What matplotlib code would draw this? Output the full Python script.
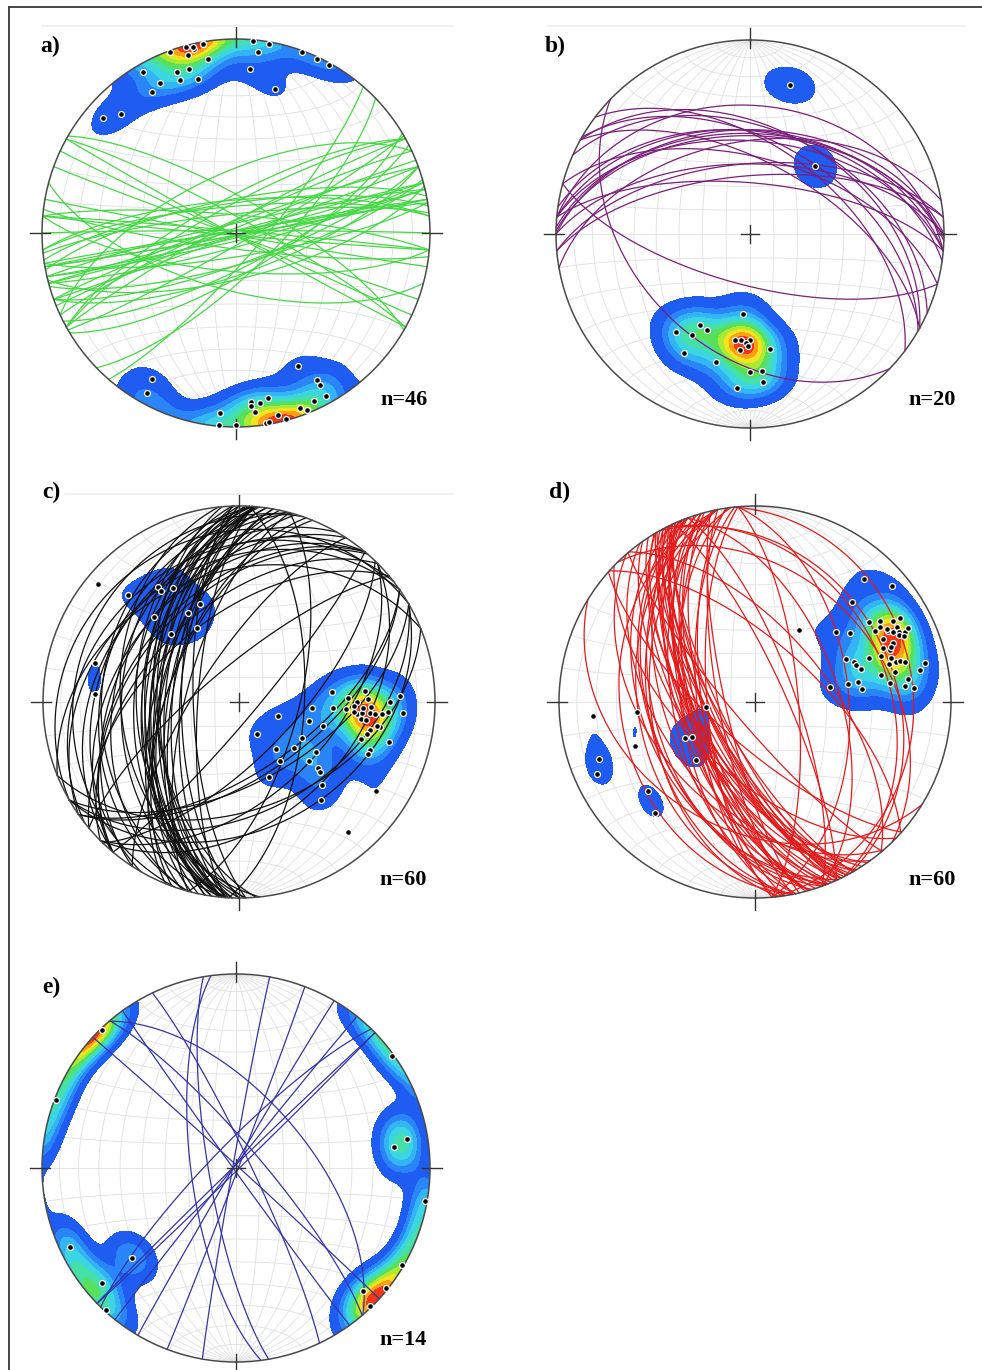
import numpy as np
import matplotlib
matplotlib.use('Agg')
import matplotlib.pyplot as plt
from matplotlib.patches import Circle
from matplotlib.lines import Line2D

W, H = 982, 1370

# ── Data: planes as dip direction / dip (deg) ───────────────────
a_dipdir = [160, 165, 170, 167, 165, 171, 164, 160, 160, 166, 150, 153, 149, 131, 136,
            185, 187, 185, 190, 195, 200, 205, 209, 335, 331, 331, 331, 335, 340, 347,
            345, 349, 352, 355, 355, 354, 5, 5, 0, 351, 350, 30, 29, 167, 338, 170]
a_dip = [89, 89, 89, 86.7, 84.3, 80.1, 76.9, 77.2, 73, 70.9, 85.5, 75.7, 73.4, 79.8, 73.9,
         73.8, 83.3, 89, 89, 65.8, 89, 89, 89, 64.7, 75.5, 78.6, 85.3, 84.8, 85.7, 86,
         89, 75.8, 77.4, 76.2, 78.8, 82, 82.4, 89, 89, 89, 89, 75.8, 83.8, 88, 88, 89]

b_dipdir = [195, 224, 37, 30, 29, 24, 29, 15, 5, 5, 0, 5, 350, 0, 355, 355, 5, 2, 1, 8]
b_dip = [68.6, 40.2, 52.9, 50.2, 44.5, 44.8, 59.7, 57.6, 34.1, 45.5, 45.3, 50.3, 50.5,
         60.4, 60.3, 65.5, 68.5, 47, 48, 46]

c_dipdir = [145, 145, 150, 158, 150, 135, 150, 135, 130, 134, 105, 93,
            264, 268, 265, 268.5, 270, 274, 273.5, 274.5, 276, 275, 275, 275, 275, 270,
            268, 274, 274, 280, 282, 284, 287, 280, 285, 290, 292, 286, 285, 300,
            310, 322, 325, 310, 303, 310, 311, 338, 315, 320, 289, 330, 303, 320,
            272, 273, 272, 278, 275, 278]
c_dip = [61.1, 58.7, 56.6, 44.6, 43.5, 51.1, 35.7, 40.7, 82.9, 67.5, 65.2, 62.7,
         39.5, 46.5, 54.5, 55.6, 50.2, 45.5, 39.8, 30.5, 50.8, 56.6, 52.7, 59, 62.2, 66,
         71, 72.9, 65.4, 62.1, 57.6, 56.8, 55, 60.5, 67.9, 60.3, 60.5, 36.9, 30.5, 30.2,
         30.2, 25, 30.2, 38.6, 38.8, 43.6, 45.4, 34, 50.4, 54.8, 17.3, 15.2, 72.5, 75.6,
         49, 53, 57, 53, 49, 55]

d_dipdir = [221.6, 229.6, 224, 235, 239.5, 229, 234, 242, 239.6, 240, 242, 244, 245, 244,
            249, 247, 247, 254, 254, 254, 249, 245, 248, 250, 253, 258, 258, 259, 257,
            261.5, 264, 265, 262, 259, 263, 259, 259, 239,
            211.5, 84, 85, 85, 70, 63, 61, 45.5, 70, 65.5, 50, 42,
            243, 245, 241, 248, 246, 250, 252, 237, 255, 244]
d_dip = [72.9, 80.7, 60.5, 60.4, 60.4, 45.3, 50.1, 66, 70.8, 74.6, 70.9, 70.5, 73.5, 75.6,
         63, 60.2, 65.5, 60.2, 63.8, 65.7, 52.4, 42.7, 45.1, 45.4, 47.3, 55.6, 62.1, 74.9,
         77.8, 68, 65.9, 70.1, 59.1, 44.7, 45.7, 40.1, 32, 63.7,
         35.3, 20.3, 50.4, 72, 55.1, 33.1, 29.9, 35, 73.4, 77.4, 60.3, 65.2,
         68, 70, 66, 64, 72, 58, 62, 65, 68, 62]

e_dipdir = [135.7, 110.8, 64.5, 49.4, 42.4, 49.2, 234.2, 260.3, 262.6, 280, 300.4, 308.6,
            315.8, 314.2]
e_dip = [89, 89.1, 84, 80.1, 89, 60.2, 89, 78.5, 71.1, 88.6, 89, 89, 89, 80.1]

panel_labels = ['a)', 'b)', 'c)', 'd)', 'e)']
n_labels = ['n=46', 'n=20', 'n=60', 'n=60', 'n=14']
line_colors = ['#45d845', '#7a1f7a', '#111111', '#e41a1a', '#3434a8']

# density colours (low -> high)
DENS_COLS = ['#1f5cf2', '#2a86f8', '#33b4f4', '#3cd6e2', '#45e0a8',
             '#58e05a', '#aaea32', '#f2e41e', '#ffa014', '#f03818']
KAPPA = 70.0
THRESH = 0.022


# ── Equal-area lower hemisphere helpers ──────────────────────────
def lambert(v):
    f = 1.0 / np.sqrt(1.0 - v[..., 2])
    return v[..., 0] * f, v[..., 1] * f


def great_circle(dd, dip, n=200):
    d, p = np.radians(dd), np.radians(dip)
    s = np.array([np.sin(d - np.pi / 2), np.cos(d - np.pi / 2), 0.0])
    dv = np.array([np.sin(d) * np.cos(p), np.cos(d) * np.cos(p), -np.sin(p)])
    a = np.linspace(0, np.pi, n)[:, None]
    return lambert(np.cos(a) * s + np.sin(a) * dv)


def pole_vectors(dd, dip):
    tr = np.radians(np.asarray(dd) + 180.0)
    pl = np.radians(90.0 - np.asarray(dip))
    return np.stack([np.cos(pl) * np.sin(tr), np.cos(pl) * np.cos(tr), -np.sin(pl)], -1)


def draw_grid(ax):
    gc = '#e0e0e0'
    for dip in range(10, 90, 10):
        for dd in (90, 270):
            x, y = great_circle(dd, dip)
            ax.plot(x, y, color=gc, lw=0.6, zorder=1)
    x, y = great_circle(90, 90)
    ax.plot(x, y, color=gc, lw=0.6, zorder=1)
    phi = np.linspace(0, np.pi, 200)
    for lat in range(-80, 90, 10):
        la = np.radians(lat)
        v = np.stack([np.cos(la) * np.cos(phi), np.full_like(phi, np.sin(la)),
                      -np.cos(la) * np.sin(phi)], -1)
        x, y = lambert(v)
        ax.plot(x, y, color=gc, lw=0.6, zorder=1)


def draw_density(ax, P, clip):
    g = np.linspace(-1.02, 1.02, 361)
    X, Y = np.meshgrid(g, g)
    r = np.hypot(X, Y)
    sc = np.where(r > 1, 1.0 / np.maximum(r, 1e-9), 1.0)
    Xc, Yc = X * sc, Y * sc
    R2 = Xc ** 2 + Yc ** 2
    f = np.sqrt(np.clip(2 - R2, 0, None))
    G = np.stack([Xc * f, Yc * f, R2 - 1], -1)
    dots = np.abs(G @ P.T)
    dens = np.exp(KAPPA * (dots - 1)).sum(-1) / len(P)
    mx = dens.max()
    levels = np.concatenate([[THRESH], THRESH + (mx - THRESH) * np.linspace(0.14, 1.0, 10)])
    levels[-1] = mx * 1.01
    cs = ax.contourf(X, Y, dens, levels=levels, colors=DENS_COLS, zorder=2)
    cs.set_clip_path(clip)


def add_net(cx, cy, R, dd, dip, color, lw=0.9):
    L = 1.15
    ax = fig.add_axes([(cx - L * R) / W, 1 - (cy + L * R) / H, 2 * L * R / W, 2 * L * R / H])
    ax.set_xlim(-L, L)
    ax.set_ylim(-L, L)
    ax.axis('off')
    clip = Circle((0, 0), 1.0, transform=ax.transData, fc='none', ec='none')
    ax.add_patch(clip)

    draw_grid(ax)
    P = pole_vectors(dd, dip)
    draw_density(ax, P, clip)

    for d_, p_ in zip(dd, dip):
        x, y = great_circle(d_, p_)
        ax.plot(x, y, color=color, lw=lw, zorder=3)

    px, py = lambert(P)
    ax.plot(px, py, 'o', ms=4.2, mfc='black', mec='white', mew=0.9, zorder=5)

    ax.add_patch(Circle((0, 0), 1.0, fc='none', ec='#4a4a4a', lw=1.1, zorder=4))
    tk = dict(color='#333333', lw=1.0, zorder=4)
    ax.plot([0, 0], [0.96, 1.06], **tk)
    ax.plot([0, 0], [-0.96, -1.06], **tk)
    ax.plot([0.96, 1.06], [0, 0], **tk)
    ax.plot([-0.96, -1.06], [0, 0], **tk)
    ax.plot([-0.045, 0.045], [0, 0], **tk)
    ax.plot([0, 0], [-0.045, 0.045], **tk)
    return ax


fig = plt.figure(figsize=(W / 100, H / 100), dpi=100, facecolor='white')

# faint scan lines above the top nets
for x0, x1, yy in [(42, 453, 26), (548, 965, 26), (65, 453, 494)]:
    fig.add_artist(Line2D([x0 / W, x1 / W], [1 - yy / H] * 2, color='#eeeeee', lw=1.2))

nets = [
    (236, 233, 194, a_dipdir, a_dip, (40, 46), (428, 400)),
    (750, 234, 194, b_dipdir, b_dip, (545, 46), (956, 400)),
    (239, 702, 196, c_dipdir, c_dip, (42, 492), (427, 880)),
    (755, 702, 196, d_dipdir, d_dip, (549, 492), (956, 880)),
    (236, 1168, 194, e_dipdir, e_dip, (42, 987), (427, 1340)),
]

for i, (cx, cy, R, dd, dip, lpos, npos) in enumerate(nets):
    add_net(cx, cy, R, dd, dip, line_colors[i])
    fig.text(lpos[0] / W, 1 - lpos[1] / H, panel_labels[i], family='Liberation Serif',
             fontweight='bold', fontsize=17, ha='left', va='center')
    fig.text(npos[0] / W, 1 - npos[1] / H, n_labels[i], family='Liberation Serif',
             fontweight='bold', fontsize=16, ha='right', va='center')

# outer frame (top and left edges)
fig.add_artist(Line2D([9 / W, 1], [1 - 7 / H] * 2, color='#444444', lw=1.4))
fig.add_artist(Line2D([9 / W, 9 / W], [0, 1 - 7 / H], color='#444444', lw=1.4))

fig.savefig('out.png', dpi=100, facecolor='white')
